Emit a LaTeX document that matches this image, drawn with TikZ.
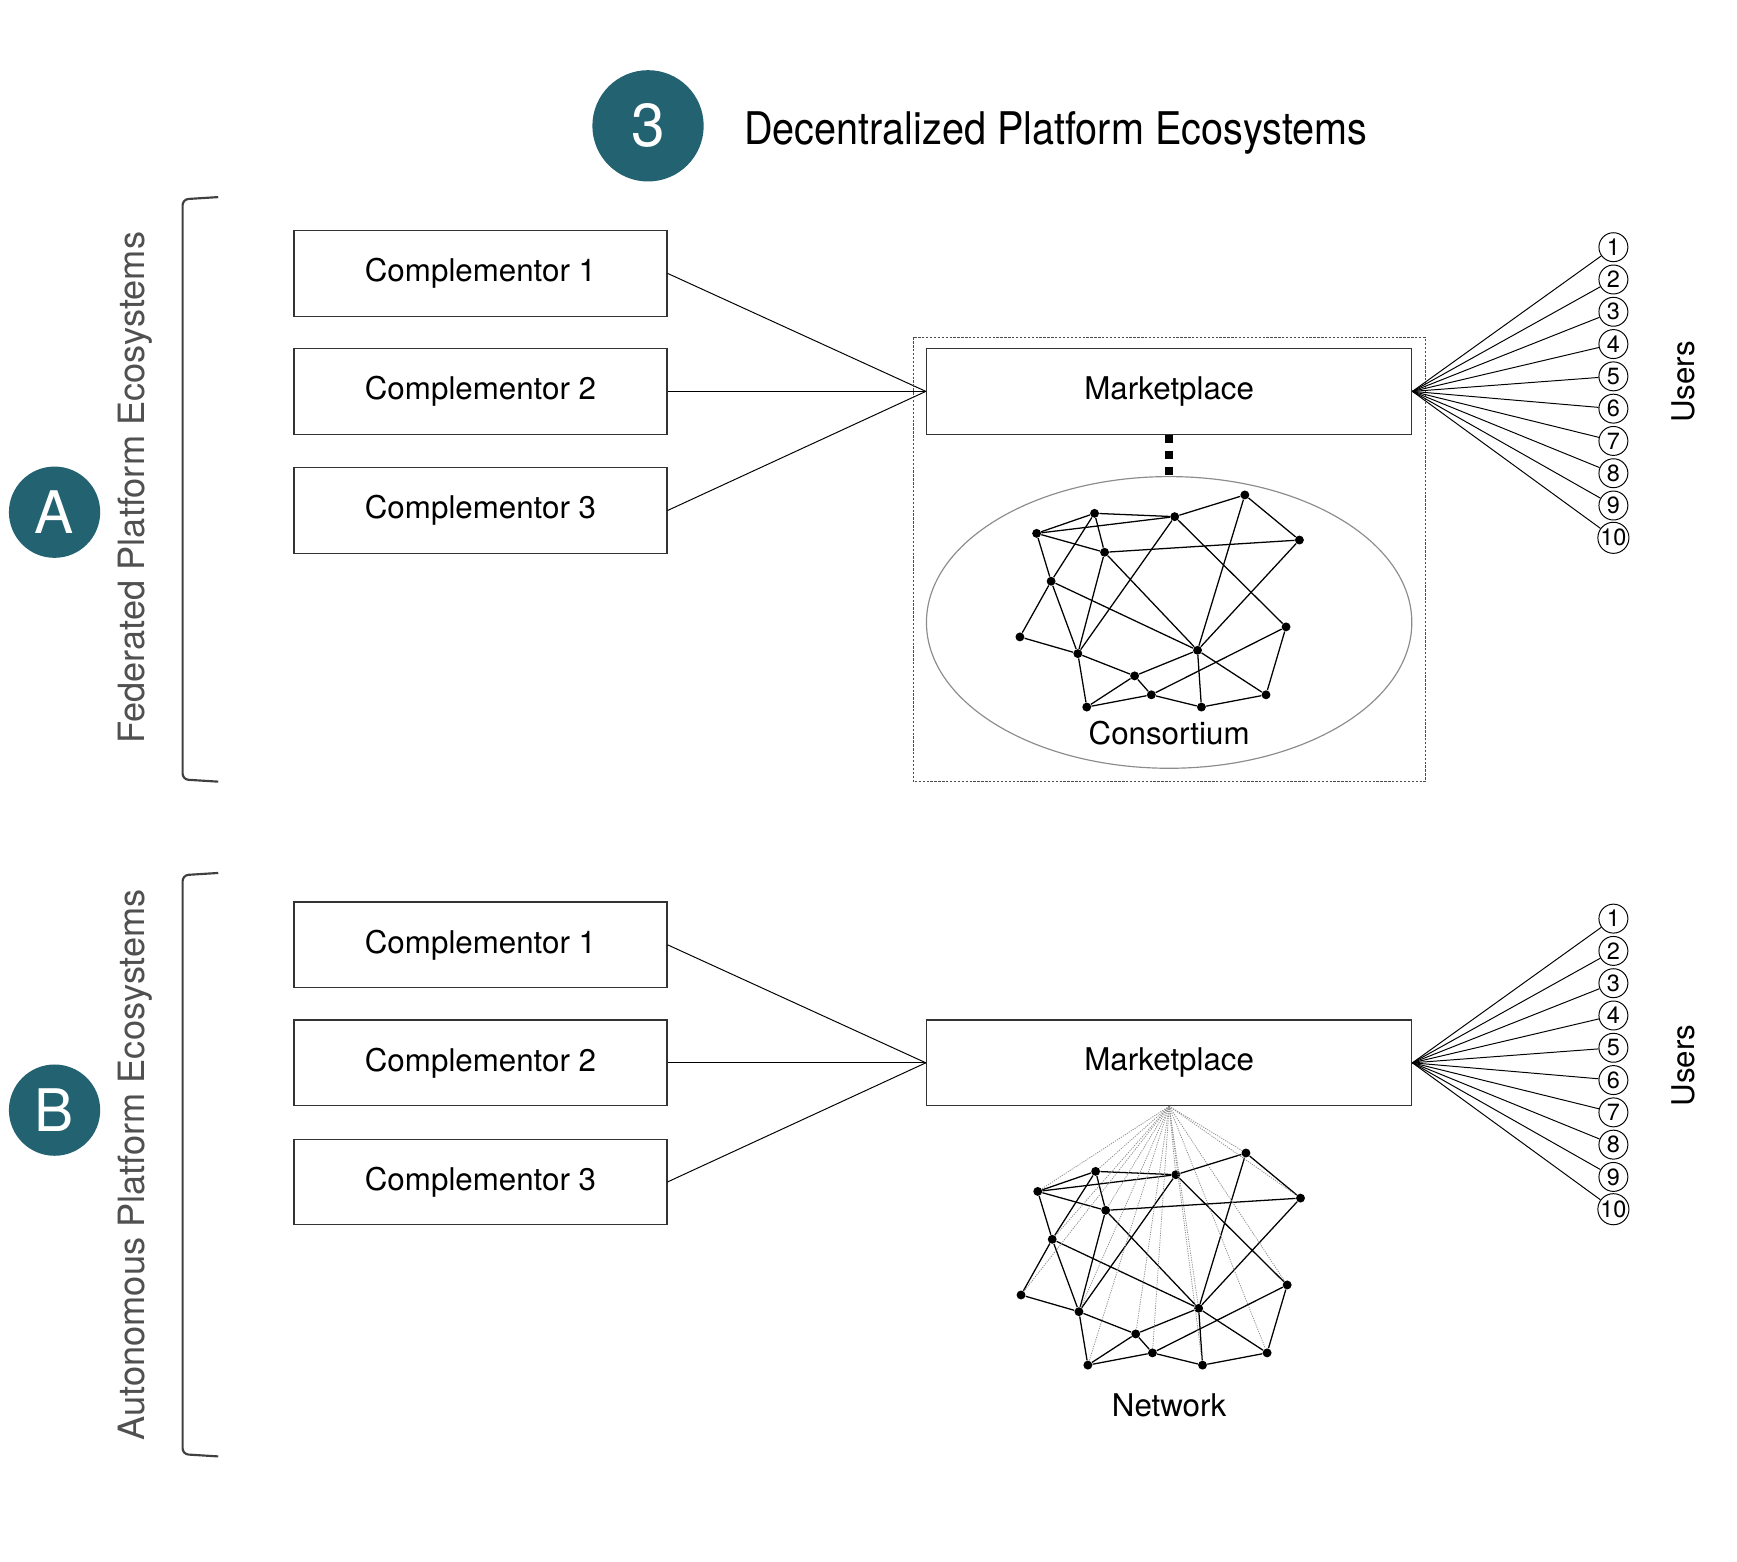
\documentclass[tikz,border=0pt]{standalone}
\usepackage{fontspec}
\setmainfont{TeX Gyre Heros}
\newfontfamily\titlefont{TeX Gyre Heros}[FakeStretch=0.88]
\usetikzlibrary{shapes.geometric}
\definecolor{tealc}{RGB}{35,98,113}
\definecolor{sidegray}{RGB}{80,80,80}
\newcommand\netgraph[3]{%
  \begin{scope}[shift={(#2,#3)}]
    \foreach \n/\x/\y in {a/931/479, b/983/461, c/1055/464, d/1118/444.5,
        e/1167/485, f/992/496, g/944/522, h/916/572, i/968/587, j/1075.5/584,
        k/1155/563, l/1019/607, m/1034/624, n/976/635, o/1079/635, p/1137/624}
      \node[netdot] (#1\n) at (\x,\y) {};
  \end{scope}
  \foreach \u/\v in {a/b, a/c, a/f, a/g, b/c, b/f, b/g, c/d, c/i, c/k, d/e, d/j,
      e/f, e/j, f/i, f/j, g/h, g/i, g/j, h/i, i/l, i/n, j/l, j/o, j/p, k/m, k/p,
      l/m, l/n, m/n, m/o, o/p}
    \draw[netedge] (#1\u) -- (#1\v);
}
\begin{document}
\begin{tikzpicture}[x=0.02cm,y=-0.02cm,
  box/.style={draw=black!80, line width=0.6pt, minimum width=6.7cm,
    minimum height=1.54cm, inner sep=0pt, font=\fontsize{16}{19}\selectfont},
  mbox/.style={box, minimum width=8.72cm},
  conn/.style={draw=black, line width=0.5pt},
  user/.style={circle, draw=black, line width=0.5pt, minimum size=0.52cm,
    inner sep=0pt, fill=white, font=\fontsize{12}{14}\selectfont},
  netdot/.style={circle, fill=black, inner sep=0pt, minimum size=0.16cm},
  netedge/.style={draw=black, line width=0.65pt},
  fanline/.style={draw=black!45, line width=0.4pt, dash pattern=on 0.6pt off 0.6pt},
  badge/.style={circle, fill=tealc, text=white, inner sep=0pt, minimum size=1.64cm,
    font=\fontsize{30}{34}\selectfont},
  sidelabel/.style={rotate=90, text=sidegray, font=\fontsize{18.5}{22}\selectfont},
  userlabel/.style={rotate=90, font=\fontsize{16}{19}\selectfont},
  bracket/.style={draw=black!75, line width=1.1pt, rounded corners=3pt}
]
\useasboundingbox (0,0) rectangle (1560,1402.8);

% title
\node[badge, minimum size=2cm, font=\fontsize{31}{35}\selectfont] (three) at (582,113) {3};
\node[anchor=base west, inner sep=0pt, font=\titlefont\fontsize{23}{27}\selectfont] (title) at (668,130) {Decentralized Platform Ecosystems};

% ---------- A: federated ----------
\node[badge] (bA) at (49,460) {A};
\node[sidelabel] (labA) at (121,438) {Federated Platform Ecosystems};
\draw[bracket] (196,177) -- (164,179) -- (164,700) -- (196,702);

\node[box] (ac1) at (431.5,245.5) {Complementor 1};
\node[box] (ac2) at (431.5,351.5) {Complementor 2};
\node[box] (ac3) at (431.5,458.5) {Complementor 3};
\node[mbox] (amp) at (1050,351.5) {Marketplace};
\foreach \c in {1,2,3} \draw[conn] (ac\c.east) -- (amp.west);

\draw[draw=black!70, line width=0.5pt, dash pattern=on 1.2pt off 0.8pt] (820,303) rectangle (1280,702);
\node[ellipse, draw=black!45, line width=0.6pt, minimum width=8.72cm, minimum height=5.24cm, inner sep=0pt] (cons) at (1050,559) {};
\draw[line width=0.14cm, dash pattern=on 0.14cm off 0.15cm] (amp.south) -- (cons.north);
\node[font=\fontsize{16}{19}\selectfont] (consl) at (1050,658) {Consortium};
\netgraph{A}{0}{0}

\foreach \i in {1,...,10} {
  \node[user] (au\i) at (1449,{222+29*(\i-1)}) {\i};
  \draw[conn] (amp.east) -- (au\i);
}
\node[userlabel] (ausers) at (1512,343) {Users};

% ---------- B: autonomous ----------
\node[badge] (bB) at (49,997) {B};
\node[sidelabel] (labB) at (121,1046) {Autonomous Platform Ecosystems};
\draw[bracket] (196,784) -- (164,786) -- (164,1306) -- (196,1308);

\node[box] (bc1) at (431.5,848.5) {Complementor 1};
\node[box] (bc2) at (431.5,954.5) {Complementor 2};
\node[box] (bc3) at (431.5,1061.5) {Complementor 3};
\node[mbox] (bmp) at (1050,954.5) {Marketplace};
\foreach \c in {1,2,3} \draw[conn] (bc\c.east) -- (bmp.west);

\netgraph{B}{1}{591}
\foreach \n in {a,b,c,d,e,f,g,h,i,j,k,l,m,n,o,p}
  \draw[fanline] (bmp.south) -- (B\n);
\node[font=\fontsize{16}{19}\selectfont] (netl) at (1050,1262) {Network};

\foreach \i in {1,...,10} {
  \node[user] (bu\i) at (1449,{825+29*(\i-1)}) {\i};
  \draw[conn] (bmp.east) -- (bu\i);
}
\node[userlabel] (busers) at (1512,957) {Users};
\end{tikzpicture}
\end{document}
